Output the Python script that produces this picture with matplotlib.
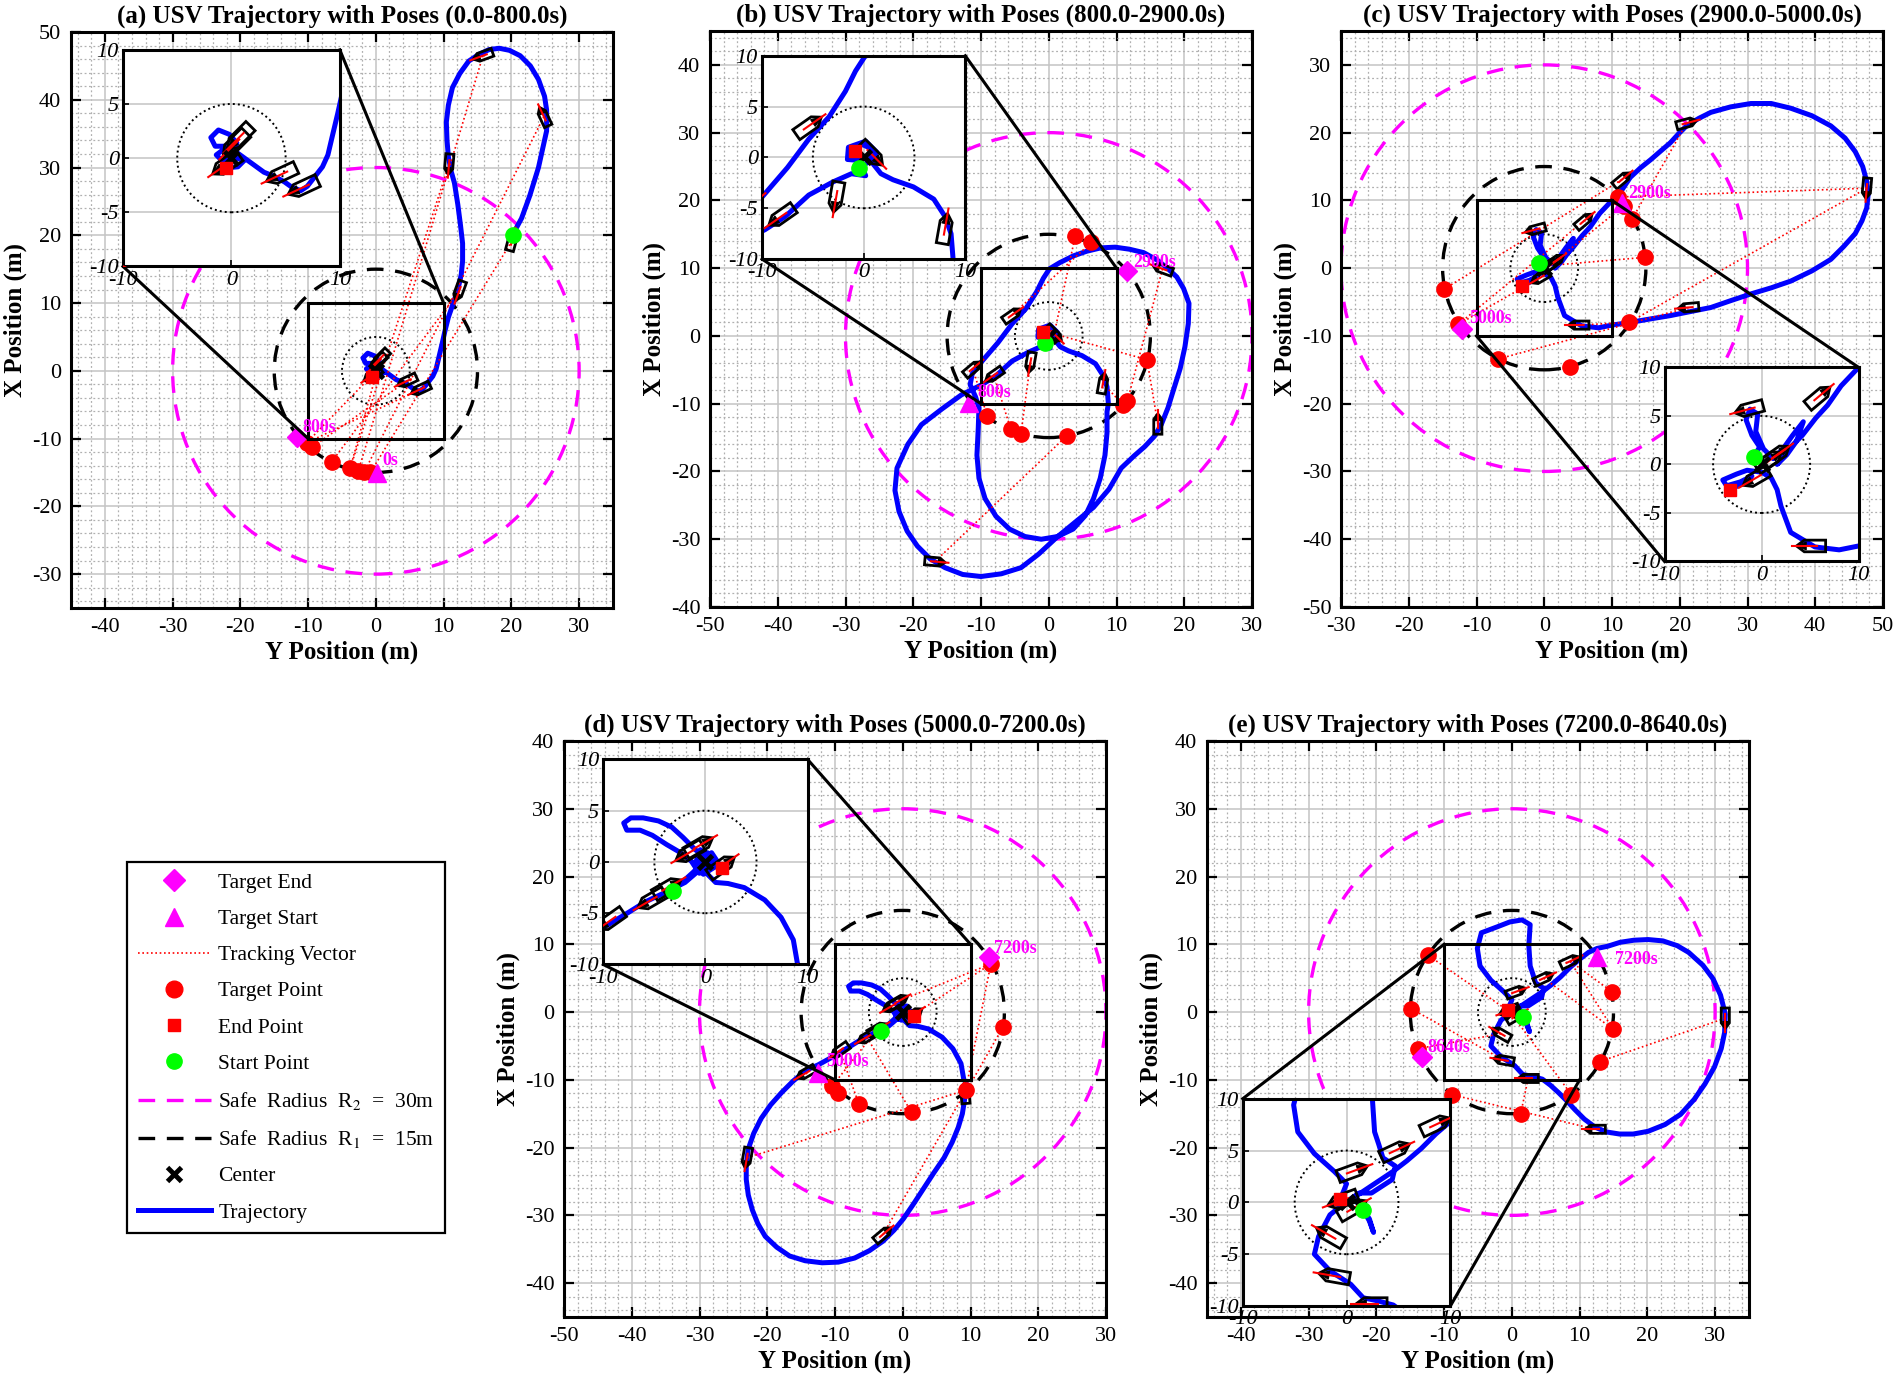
import matplotlib
matplotlib.use("Agg")
import matplotlib.pyplot as plt
from matplotlib.patches import Circle, Polygon, Rectangle
from matplotlib.lines import Line2D
from matplotlib.ticker import MultipleLocator
from matplotlib.transforms import Affine2D

plt.rcParams["font.family"] = ["Liberation Serif", "DejaVu Serif"]
plt.rcParams["mathtext.fontset"] = "stix"
plt.rcParams["axes.unicode_minus"] = False

# all points are (Y position, X position) = (horizontal, vertical)
R2, R1, R0 = 30, 15, 5

# ---------------- (a) 0 - 800 s ----------------
traj_a = [(20.2, 20.1), (21.5, 22.5), (22.7, 25.8), (24.0, 30.0), (25.2, 35.4), (25.2, 38.5),
          (24.9, 40.5), (24.0, 43.0), (22.8, 45.0), (21.3, 46.5), (19.7, 47.3), (18.2, 47.6),
          (16.7, 47.4), (15.2, 46.7), (13.7, 45.7), (12.4, 43.9), (11.3, 41.8), (10.7, 39.2),
          (10.4, 36.7), (10.5, 34.0), (10.7, 31.6), (11.1, 29.5), (11.6, 27.7), (12.1, 24.5),
          (12.5, 21.4), (12.8, 18.8), (12.8, 16.2), (12.6, 14.2), (12.2, 12.4), (11.5, 10.2),
          (10.7, 7.9), (10.2, 5.9), (9.8, 4.1), (9.3, 2.0), (8.9, 0.3), (8.4, -0.8), (7.7, -1.7),
          (7.0, -2.6), (6.4, -3.0), (5.6, -2.7), (4.9, -2.2), (4.0, -1.7), (3.0, -1.3), (1.9, -0.5),
          (0.8, 0.3), (-0.3, 1.1), (-1.5, 1.1), (-1.9, 1.9), (-1.2, 2.6), (-0.2, 2.2), (0.5, 1.4),
          (0.2, 0.4), (-0.6, 0.9), (-1.4, 0.3), (-0.8, -0.3), (0.4, 0.0), (1.2, -0.2), (0.6, -0.8),
          (-0.5, -0.9)]
boats_a = [(20.1, 19.2, 75), (24.8, 37.5, 115), (15.8, 46.5, 200), (10.8, 30.5, 265),
           (12.3, 11.8, 250), (6.6, -2.7, 205), (4.6, -1.5, 205), (0.7, 1.9, 225),
           (0.3, 1.3, 225), (-0.5, -0.6, 215)]
targets_a = [(-9.5, -11.3), (-10.2, -10.6), (-6.5, -13.4), (-3.8, -14.4), (-2.6, -14.8),
             (-1.7, -14.9), (-0.8, -15.0)]
track_a = [(2, 4), (1, 5), (3, 3), (0, 6), (4, 2), (5, 1), (6, 0), (9, 1), (7, 3)]
start_a, end_a = (20.2, 20.1), (-0.5, -0.9)
tstart_a, tend_a = (0.1, -15.1), (-11.6, -9.7)
tlabel_a = [("0s", 1.0, -13.2), ("800s", -10.8, -8.4)]

# ---------------- (b) 800 - 2900 s ----------------
traj_b = [(-0.5, -1.0), (0.6, -0.4), (0.9, 0.8), (-0.2, 1.3), (-1.0, 0.4), (-0.3, -0.6), (0.2, -1.8),
          (-1.2, -1.6), (-3.0, -2.4), (-5.4, -3.7), (-7.7, -5.8), (-9.7, -7.1), (-11.5, -8.0),
          (-12.9, -8.7), (-15.8, -10.8), (-18.8, -13.1), (-20.8, -16.0), (-22.4, -19.5),
          (-22.7, -22.8), (-22.1, -25.9), (-20.9, -28.8), (-19.4, -31.0), (-17.5, -32.9),
          (-15.3, -34.2), (-12.7, -35.2), (-10.0, -35.5), (-7.0, -35.1), (-4.1, -34.2),
          (-1.5, -32.2), (1.2, -29.7), (4.0, -27.4), (6.6, -25.3), (8.9, -22.6), (10.7, -19.5),
          (12.6, -17.7), (14.2, -16.3), (15.6, -14.8), (16.6, -13.1), (17.6, -10.6), (18.4, -8.0),
          (19.4, -4.8), (20.1, -1.6), (20.6, 1.8), (20.7, 4.8), (19.9, 7.0), (18.9, 8.7),
          (17.4, 10.1), (16.0, 11.2), (14.0, 12.3), (11.9, 12.8), (9.8, 13.1), (7.7, 13.0),
          (5.6, 12.5), (3.6, 11.8), (1.6, 10.8), (0.1, 9.9), (-0.8, 8.5), (-1.8, 6.5), (-3.4, 4.0),
          (-5.4, 1.8), (-7.5, -1.0), (-10.0, -3.9), (-11.3, -5.6), (-11.6, -7.2), (-10.8, -9.0),
          (-10.3, -10.6), (-10.4, -13.5), (-10.6, -17.6), (-10.3, -21.0), (-9.4, -24.0),
          (-7.8, -26.6), (-5.8, -28.5), (-3.5, -29.6), (-1.1, -30.0), (1.3, -29.6), (3.6, -28.5),
          (5.4, -26.5), (6.6, -24.0), (7.6, -21.0), (8.3, -17.6), (8.6, -14.3), (8.6, -11.2),
          (8.8, -10.0), (8.6, -7.5), (8.0, -5.8), (6.9, -4.1), (4.9, -2.9), (2.9, -2.2),
          (1.7, -1.6), (0.9, -0.6), (1.3, 0.5), (0.2, 1.6), (-1.5, 1.0), (-1.6, -0.2),
          (-0.4, -0.3), (-0.9, 0.6)]
boats_b = [(16.8, 9.9, 160), (16.1, -13.0, 90), (-16.8, -33.3, -5), (-5.4, 3.1, 35),
           (-8.1, -5.8, 215), (-11.2, -4.8, 40), (-2.7, -3.9, 260), (8.0, -7.0, 80),
           (0.8, 0.3, -45)]
targets_b = [(3.9, 14.7), (6.3, 13.8), (14.5, -3.5), (11.6, -9.6), (11.0, -10.2), (2.7, -14.7),
             (-4.1, -14.4), (-5.6, -13.8), (-9.1, -11.8)]
track_b = [(2, 5), (1, 2), (0, 3), (8, 0), (3, 1), (7, 4), (5, 8), (4, 7), (6, 6), (8, 2)]
start_b, end_b = (-0.5, -1.0), (-0.9, 0.6)
tstart_b, tend_b = (-11.7, -9.9), (11.6, 9.6)
tlabel_b = [("800s", -10.6, -8.3), ("2900s", 12.5, 10.9)]

# ---------------- (c) 2900 - 5000 s ----------------
traj_c = [(-0.8, 0.8), (-0.2, 1.8), (-1.0, 3.0), (-1.6, 4.6), (-1.2, 5.7), (-0.4, 5.2), (-0.6, 3.4),
          (0.2, 1.6), (1.2, 0.6), (2.2, 1.6), (3.2, 3.0), (4.3, 4.4), (3.6, 2.4), (2.6, 1.0),
          (1.6, 0.0), (2.8, 1.6), (4.2, 3.0), (5.6, 4.8), (6.8, 6.1), (8.2, 8.1), (10.0, 10.0),
          (11.5, 11.6), (12.7, 13.4), (14.2, 14.8), (15.7, 16.0), (17.2, 17.3), (18.6, 18.5),
          (19.8, 19.8), (21.0, 21.0), (22.8, 22.1), (24.6, 23.0), (27.5, 23.8), (30.5, 24.3),
          (33.5, 24.3), (36.4, 23.6), (39.5, 22.5), (42.3, 21.0), (44.4, 19.2), (45.9, 17.2),
          (47.0, 15.0), (47.6, 12.8), (47.8, 10.8), (47.6, 8.9), (46.9, 7.0), (45.9, 5.1),
          (44.2, 3.2), (42.3, 1.3), (39.5, -0.4), (36.4, -1.9), (33.5, -2.9), (30.5, -3.8),
          (27.5, -4.8), (24.6, -5.8), (21.6, -6.4), (18.6, -7.0), (15.6, -7.5), (12.7, -8.0),
          (10.0, -8.4), (8.0, -8.8), (5.5, -8.5), (3.0, -7.0), (2.0, -4.3), (1.6, -2.6),
          (1.0, -1.4), (0.0, -0.8), (-1.5, -0.6), (-2.6, -1.0), (-4.0, -1.6), (-3.6, -2.2),
          (-2.2, -1.8), (-1.0, -1.2), (-2.0, -2.0), (-3.3, -2.6)]
boats_c = [(21.0, 21.4, 15), (47.6, 11.8, -95), (21.3, -5.8, 185), (11.5, 13.1, 40),
           (5.9, 7.0, 40), (-1.3, 5.7, 195), (5.1, -8.4, 180), (0.8, 0.4, 35),
           (1.6, 1.0, 35), (-0.6, -1.4, 210)]
targets_c = [(-14.8, -3.1), (-12.7, -8.3), (-6.8, -13.4), (3.8, -14.6), (12.5, -8.0),
             (14.9, 1.6), (13.0, 7.3), (10.9, 10.5), (11.7, 9.2)]
track_c = [(0, 6), (1, 7), (1, 4), (2, 2), (3, 0), (4, 1), (6, 4), (7, 5), (8, 8), (9, 1)]
start_c, end_c = (-0.8, 0.8), (-3.3, -2.6)
tstart_c, tend_c = (11.5, 9.6), (-12.1, -9.0)
tlabel_c = [("2900s", 12.4, 11.0), ("5000s", -11.1, -7.4)]

# ---------------- (d) 5000 - 7200 s ----------------
traj_d = [(-3.2, -2.8), (-2.2, -1.9), (-1.2, -1.0), (-0.4, -0.2), (0.4, 0.6), (-0.5, 1.2),
          (-0.9, 0.1), (0.3, -0.7), (-0.6, -1.1), (-1.4, 0.1), (-2.6, 1.0), (-3.8, 1.7),
          (-5.2, 2.6), (-6.4, 3.1), (-7.7, 3.1), (-8.0, 3.8), (-7.3, 4.3), (-6.1, 4.3), (-4.6, 4.0),
          (-3.3, 3.4), (-2.2, 2.4), (-1.0, 1.2), (0.3, 0.2), (0.9, -0.5), (-0.2, -1.2), (-1.0, -0.4),
          (0.2, 0.9), (0.8, 0.2), (-0.6, -0.8), (-2.0, -2.0), (-4.0, -3.0), (-5.9, -3.9),
          (-7.5, -4.9), (-9.0, -5.8), (-10.5, -6.7), (-12.5, -7.8), (-14.3, -8.6), (-16.2, -10.2),
          (-17.9, -11.9), (-19.5, -13.7), (-20.9, -15.7), (-22.0, -17.9), (-22.8, -20.2),
          (-23.1, -22.5), (-23.1, -24.7), (-22.8, -27.0), (-22.2, -29.2), (-21.4, -31.2),
          (-20.3, -33.1), (-18.6, -34.7), (-16.7, -36.0), (-14.4, -36.7), (-11.9, -37.0),
          (-9.5, -36.9), (-7.1, -36.3), (-4.9, -35.2), (-2.9, -33.8), (-1.3, -32.2), (0.1, -30.5),
          (1.6, -28.3), (3.1, -26.0), (4.6, -23.7), (6.1, -21.5), (7.3, -19.2), (8.2, -17.0),
          (8.8, -15.0), (9.1, -13.1), (9.4, -10.6), (9.0, -9.9), (8.6, -7.6), (7.4, -5.4),
          (5.8, -3.7), (3.8, -2.5), (2.2, -2.1), (1.0, -2.0), (0.2, -1.2), (-0.4, 0.4), (0.6, 0.9),
          (1.2, 0.0), (1.6, -0.6)]
boats_d = [(-14.3, -9.0, 210), (-23.0, -21.5, -100), (-2.9, -32.8, 40), (-9.3, -5.7, 215),
           (-5.3, -3.7, 210), (-3.7, -2.5, 30), (-0.6, 1.6, 30), (1.6, -0.4, 35),
           (-1.6, 0.9, 210), (9.2, -12.0, 95)]
targets_d = [(13.0, 7.1), (14.8, -2.2), (9.4, -11.5), (1.3, -14.8), (-6.5, -13.5),
             (-9.5, -11.9), (-10.4, -10.9)]
track_d = [(1, 2), (2, 2), (0, 5), (6, 0), (7, 0), (3, 4), (4, 3), (5, 6), (9, 0), (9, 1)]
start_d, end_d = (-3.2, -2.8), (1.6, -0.6)
tstart_d, tend_d = (-12.5, -9.0), (12.7, 8.1)
tlabel_d = [("5000s", -11.3, -7.3), ("7200s", 13.5, 9.4)]

# ---------------- (e) 7200 - 8640 s ----------------
traj_e = [(1.6, -0.7), (2.2, -1.8), (2.6, -2.9), (2.2, -1.6), (1.4, -0.4), (0.6, 0.4), (1.8, 1.2),
          (3.0, 2.0), (4.5, 3.0), (5.8, 4.0), (7.2, 5.2), (8.6, 6.6), (10.0, 7.8), (11.3, 8.8),
          (12.6, 9.4), (14.1, 9.7), (16.0, 10.3), (18.0, 10.6), (20.1, 10.7), (22.3, 10.5),
          (24.4, 9.8), (26.1, 8.8), (28.2, 6.9), (29.7, 4.9), (30.8, 2.5), (31.5, -0.3),
          (31.4, -3.0), (30.9, -5.4), (29.9, -8.1), (28.5, -10.6), (26.9, -12.9), (24.9, -15.1),
          (22.6, -16.6), (20.1, -17.6), (17.9, -18.0), (15.9, -18.0), (14.0, -17.7), (12.3, -17.0),
          (10.7, -15.8), (9.3, -14.4), (8.1, -13.1), (6.9, -11.9), (5.7, -10.8), (4.5, -9.9),
          (3.0, -9.5), (1.6, -9.2), (0.4, -7.9), (-1.6, -6.6), (-3.1, -5.0), (-2.7, -3.3),
          (-1.6, -1.2), (-0.6, -0.4), (0.2, 0.2), (1.2, 0.9), (2.4, 0.9), (4.4, 2.2), (4.7, 3.5),
          (3.5, 4.3), (3.1, 5.6), (2.7, 6.8), (2.5, 9.8), (2.7, 12.9), (1.5, 13.6), (-0.3, 13.3),
          (-2.1, 12.6), (-4.5, 11.7), (-5.1, 9.4), (-4.7, 6.8), (-3.1, 4.7), (-1.2, 3.0),
          (0.0, 1.8), (-0.6, 0.3)]
boats_e = [(12.3, -17.3, 180), (31.5, -0.9, -90), (8.6, 7.5, 25), (4.7, 5.0, 25), (0.6, 3.0, 20),
           (-1.6, -3.2, 150), (-1.2, -7.1, 170), (2.4, -9.8, 180), (-0.4, 0.2, 200),
           (0.6, -0.6, 30)]
targets_e = [(-12.4, 8.4), (-14.9, 0.5), (-13.9, -5.4), (-8.8, -12.2), (1.3, -15.0),
             (8.8, -12.2), (13.0, -7.3), (14.9, -2.5), (14.8, 3.0)]
track_e = [(1, 6), (0, 3), (7, 4), (2, 8), (3, 7), (9, 0), (5, 2), (6, 1), (8, 5), (2, 7)]
start_e, end_e = (1.6, -0.7), (-0.6, 0.3)
tstart_e, tend_e = (12.6, 8.1), (-13.3, -6.7)
tlabel_e = [("7200s", 15.2, 7.7), ("8640s", -12.5, -5.2)]

titles = ["(a) USV Trajectory with Poses (0.0-800.0s)",
          "(b) USV Trajectory with Poses (800.0-2900.0s)",
          "(c) USV Trajectory with Poses (2900.0-5000.0s)",
          "(d) USV Trajectory with Poses (5000.0-7200.0s)",
          "(e) USV Trajectory with Poses (7200.0-8640.0s)"]

# ---------------- layout ----------------
W, H = 1900, 1386
AW, AH = 542, 576
panels = [
    dict(traj=traj_a, boats=boats_a, tgt=targets_a, track=track_a, start=start_a, end=end_a,
         ts=tstart_a, te=tend_a, tl=tlabel_a, pos=(71, 32), xlim=(-45, 35), ylim=(-35, 50),
         ins=(0.096, 0.593, 0.40, 0.376), conn=[((10, 10), (1, 1)), ((-10, -10), (0, 0))]),
    dict(traj=traj_b, boats=boats_b, tgt=targets_b, track=track_b, start=start_b, end=end_b,
         ts=tstart_b, te=tend_b, tl=tlabel_b, pos=(710, 31), xlim=(-50, 30), ylim=(-40, 45),
         ins=(0.096, 0.604, 0.375, 0.353), conn=[((10, 10), (1, 1)), ((-10, -10), (0, 0))]),
    dict(traj=traj_c, boats=boats_c, tgt=targets_c, track=track_c, start=start_c, end=end_c,
         ts=tstart_c, te=tend_c, tl=tlabel_c, pos=(1341, 31), xlim=(-30, 50), ylim=(-50, 35),
         ins=(0.597, 0.079, 0.358, 0.337), conn=[((10, 10), (1, 1)), ((-10, -10), (0, 0))]),
    dict(traj=traj_d, boats=boats_d, tgt=targets_d, track=track_d, start=start_d, end=end_d,
         ts=tstart_d, te=tend_d, tl=tlabel_d, pos=(564, 741), xlim=(-50, 30), ylim=(-45, 40),
         ins=(0.0725, 0.612, 0.377, 0.356), conn=[((10, 10), (1, 1)), ((-10, -10), (0, 0))]),
    dict(traj=traj_e, boats=boats_e, tgt=targets_e, track=track_e, start=start_e, end=end_e,
         ts=tstart_e, te=tend_e, tl=tlabel_e, pos=(1207, 741), xlim=(-45, 35), ylim=(-45, 40),
         ins=(0.066, 0.019, 0.383, 0.36), conn=[((-10, 10), (0, 1)), ((10, -10), (1, 0))]),
]

HULL = [(-1.5, -0.6), (0.7, -0.6), (1.5, 0.0), (0.7, 0.6), (-1.5, 0.6)]
BOW = [(0.5, -0.4), (1.5, 0.0), (0.5, 0.4)]
DASH = (0, (5, 3.5))
DOT = (0, (1, 1.6))


def draw_boat(ax, y, x, hdg):
    tr = Affine2D().rotate_deg(hdg).translate(y, x) + ax.transData
    ax.add_patch(Polygon(HULL, closed=True, fill=False, ec="k", lw=2.0, transform=tr, zorder=3))
    ax.add_patch(Polygon(BOW, closed=True, fc="k", ec="k", lw=0.8, transform=tr, zorder=3))
    ax.plot([-0.6, 2.0], [0, 0], color="red", lw=1.5, transform=tr, zorder=3.1)


def draw_scene(ax, p, inset=False):
    if not inset:
        ax.add_patch(Circle((0, 0), R2, fill=False, ec="magenta", lw=2.4, ls=DASH, zorder=1.5))
        ax.add_patch(Circle((0, 0), R1, fill=False, ec="black", lw=2.4, ls=DASH, zorder=1.5))
        for b, t in p["track"]:
            by, bx, _ = p["boats"][b]
            ty, tx = p["tgt"][t]
            ax.plot([by, ty], [bx, tx], color="red", ls=DOT, lw=1.2, zorder=2.2)
    ax.add_patch(Circle((0, 0), R0, fill=False, ec="black", lw=1.4, ls=DOT, zorder=1.5))
    ys = [q[0] for q in p["traj"]]
    xs = [q[1] for q in p["traj"]]
    ax.plot(ys, xs, color="blue", lw=3.6, zorder=2, solid_joinstyle="round")
    for by, bx, h in p["boats"]:
        draw_boat(ax, by, bx, h)
    ax.plot([q[0] for q in p["tgt"]], [q[1] for q in p["tgt"]], "o", color="red", ms=11, zorder=4)
    ax.plot(*p["ts"], "^", color="magenta", ms=13, zorder=4.2)
    ax.plot(*p["te"], "D", color="magenta", ms=10, zorder=4.2)
    ax.plot(0, 0, "x", color="black", ms=10, mew=3.5, zorder=3.5)
    ax.plot(*p["start"], "o", color="#00ff00", ms=11, zorder=4.5)
    ax.plot(*p["end"], "s", color="red", ms=9, zorder=4.5)


fig = plt.figure(figsize=(W / 100, H / 100), dpi=100)

for p, title in zip(panels, titles):
    left, top = p["pos"]
    ax = fig.add_axes([left / W, 1 - (top + AH) / H, AW / W, AH / H])
    ax.set_xlim(*p["xlim"])
    ax.set_ylim(*p["ylim"])
    ax.set_axisbelow(True)
    ax.xaxis.set_major_locator(MultipleLocator(10))
    ax.yaxis.set_major_locator(MultipleLocator(10))
    ax.xaxis.set_minor_locator(MultipleLocator(2))
    ax.yaxis.set_minor_locator(MultipleLocator(2))
    ax.grid(which="major", color="#c4c4c4", lw=1.1)
    ax.grid(which="minor", color="#b0b0b0", lw=0.9, ls=(0, (1.5, 2)))
    ax.tick_params(which="major", direction="in", length=7, width=1.6, top=True, right=True,
                   labelsize=16, pad=7)
    ax.tick_params(which="minor", direction="in", length=0, top=True, right=True)
    for s in ax.spines.values():
        s.set_linewidth(2.2)
    ax.set_xlabel("Y Position (m)", fontsize=18, fontweight="bold", labelpad=3)
    ax.set_ylabel("X Position (m)", fontsize=18, fontweight="bold", labelpad=3)
    ax.set_title(title, fontsize=18, fontweight="bold", pad=7)

    draw_scene(ax, p)
    for txt, ty, tx in p["tl"]:
        ax.text(ty, tx, txt, color="magenta", fontsize=13, fontweight="bold",
                ha="left", va="center", zorder=5)
    ax.add_patch(Rectangle((-10, -10), 20, 20, fill=False, ec="black", lw=2.2, zorder=4.8))

    x0, y0, iw, ih = p["ins"]
    xa, xb = p["xlim"]
    ya, yb = p["ylim"]
    for (cy, cx), (fx, fy) in p["conn"]:
        iy = xa + (x0 + fx * iw) * (xb - xa)
        ix = ya + (y0 + fy * ih) * (yb - ya)
        ax.plot([cy, iy], [cx, ix], color="black", lw=2.2, zorder=4.8)

    ins = ax.inset_axes([x0, y0, iw, ih])
    ins.set_facecolor("white")
    draw_scene(ins, p, inset=True)
    ins.set_xlim(-10, 10)
    ins.set_ylim(-10, 10)
    ins.set_axisbelow(True)
    ins.set_xticks([-10, 0, 10])
    ins.set_yticks([-10, -5, 0, 5, 10])
    ins.set_xticklabels(["-10", "0", "10"], fontstyle="italic")
    ins.set_yticklabels(["-10", "-5", "0", "5", "10"], fontstyle="italic")
    ins.grid(color="#c4c4c4", lw=1.1)
    ins.tick_params(direction="in", length=4, width=1.2, labelsize=16, pad=3)
    for s in ins.spines.values():
        s.set_linewidth(2.2)

handles = [
    Line2D([], [], marker="D", color="magenta", ls="none", ms=11),
    Line2D([], [], marker="^", color="magenta", ls="none", ms=13),
    Line2D([], [], color="red", ls=DOT, lw=1.2),
    Line2D([], [], marker="o", color="red", ls="none", ms=12),
    Line2D([], [], marker="s", color="red", ls="none", ms=8),
    Line2D([], [], marker="o", color="#00ff00", ls="none", ms=11),
    Line2D([], [], color="magenta", ls=DASH, lw=2.4),
    Line2D([], [], color="black", ls=DASH, lw=2.4),
    Line2D([], [], marker="x", color="black", ls="none", ms=10, mew=3.5),
    Line2D([], [], color="blue", lw=3.6),
]
labels = ["Target End", "Target Start", "Tracking Vector", "Target Point", "End Point",
          "Start Point", r"Safe  Radius  R$_2$  =  30m", r"Safe  Radius  R$_1$  =  15m",
          "Center", "Trajectory"]
leg = fig.legend(handles, labels, loc="upper left", bbox_to_anchor=(127 / W, 1 - 862 / H),
                 fontsize=15.5, frameon=True, fancybox=False, edgecolor="black", framealpha=1,
                 handlelength=3.4, handletextpad=0.35, labelspacing=0.75, borderpad=0.5,
                 borderaxespad=0)
leg.get_frame().set_linewidth(1.6)

fig.savefig("out.png", dpi=100)
